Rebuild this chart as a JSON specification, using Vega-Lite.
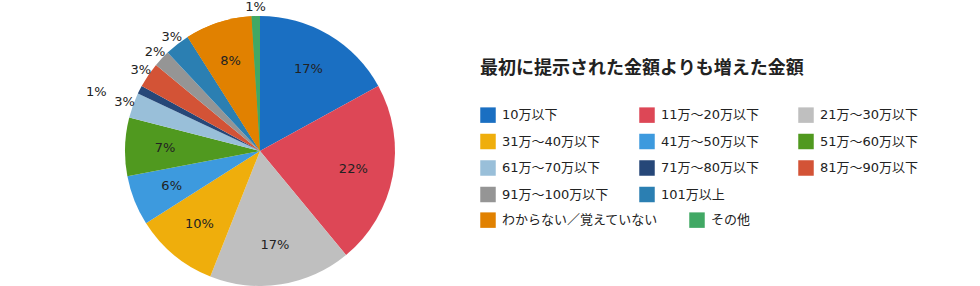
{
  "$schema": "https://vega.github.io/schema/vega-lite/v6.json",
  "width": 520,
  "height": 270,
  "autosize": {"type": "none"},
  "padding": {"left": 0, "top": 16, "right": 460, "bottom": 0},
  "background": "white",
  "config": {"view": {"stroke": null}, "font": "Noto Sans CJK JP"},
  "data": {
    "values": [
      {"order": 1, "category": "10万以下", "value": 17, "label": "17%"},
      {"order": 2, "category": "11万〜20万以下", "value": 22, "label": "22%"},
      {"order": 3, "category": "21万〜30万以下", "value": 17, "label": "17%"},
      {"order": 4, "category": "31万〜40万以下", "value": 10, "label": "10%"},
      {"order": 5, "category": "41万〜50万以下", "value": 6, "label": "6%"},
      {"order": 6, "category": "51万〜60万以下", "value": 7, "label": "7%"},
      {"order": 7, "category": "61万〜70万以下", "value": 3, "label": "3%"},
      {"order": 8, "category": "71万〜80万以下", "value": 1, "label": "1%"},
      {"order": 9, "category": "81万〜90万以下", "value": 3, "label": "3%"},
      {"order": 10, "category": "91万〜100万以下", "value": 2, "label": "2%"},
      {"order": 11, "category": "101万以上", "value": 3, "label": "3%"},
      {"order": 12, "category": "わからない／覚えていない", "value": 8, "label": "8%"},
      {"order": 13, "category": "その他", "value": 1, "label": "1%"}
    ]
  },
  "encoding": {
    "theta": {"field": "value", "type": "quantitative", "stack": true},
    "order": {"field": "order", "type": "quantitative", "sort": "ascending"}
  },
  "layer": [
    {
      "mark": {"type": "arc"},
      "encoding": {
        "color": {
          "field": "category",
          "type": "nominal",
          "scale": {
            "domain": ["10万以下", "11万〜20万以下", "21万〜30万以下", "31万〜40万以下", "41万〜50万以下", "51万〜60万以下", "61万〜70万以下", "71万〜80万以下", "81万〜90万以下", "91万〜100万以下", "101万以上", "わからない／覚えていない", "その他"],
            "range": ["#1a6fc2", "#dd4756", "#bfbfbf", "#efae0c", "#3d9ade", "#50991f", "#99bfd9", "#264778", "#d35336", "#959595", "#2b7fb2", "#e18100", "#41a864"]
          },
          "legend": {
            "title": "最初に提示された金額よりも増えた金額",
            "values": ["10万以下", "11万〜20万以下", "21万〜30万以下", "31万〜40万以下", "41万〜50万以下", "51万〜60万以下", "61万〜70万以下", "71万〜80万以下", "81万〜90万以下", "91万〜100万以下", "101万以上"],
            "orient": "none",
            "direction": "horizontal",
            "legendX": 480,
            "legendY": 44,
            "columns": 3,
            "gridAlign": "all",
            "columnPadding": 30,
            "rowPadding": 10.5,
            "symbolType": "square",
            "symbolSize": 240,
            "symbolStrokeWidth": 0,
            "symbolOpacity": 1,
            "labelFont": "DejaVu Sans, Noto Sans CJK JP",
            "labelFontSize": 13,
            "labelColor": "#222222",
            "labelOffset": 6,
            "labelLimit": 300,
            "titleFont": "Noto Sans CJK JP",
            "titleFontSize": 18,
            "titleFontWeight": "bold",
            "titleColor": "#222222",
            "titlePadding": 29,
            "titleLimit": 500
          }
        }
      }
    },
    {
      "mark": {"type": "arc"},
      "encoding": {
        "fill": {
          "condition": {
            "test": "datum.order >= 12",
            "field": "category",
            "type": "nominal",
            "scale": {
              "domain": ["わからない／覚えていない", "その他"],
              "range": ["#e18100", "#41a864"]
            },
            "legend": {
              "title": null,
              "orient": "none",
              "direction": "horizontal",
              "legendX": 480,
              "legendY": 196,
              "columns": 2,
              "columnPadding": 30,
              "symbolType": "square",
              "symbolSize": 240,
              "symbolStrokeWidth": 0,
              "symbolOpacity": 1,
              "labelFont": "DejaVu Sans, Noto Sans CJK JP",
              "labelFontSize": 13,
              "labelColor": "#222222",
              "labelOffset": 6,
              "labelLimit": 300
            }
          },
          "value": "transparent"
        }
      }
    },
    {
      "mark": {"type": "text", "radius": 95, "font": "DejaVu Sans", "fontSize": 13, "color": "#222222"},
      "encoding": {
        "text": {"condition": {"test": "datum.value >= 6", "field": "label"}, "value": ""}
      }
    },
    {
      "mark": {"type": "text", "radius": 144, "font": "DejaVu Sans", "fontSize": 13, "color": "#222222"},
      "encoding": {
        "text": {"condition": {"test": "datum.value <= 3 && datum.order != 8", "field": "label"}, "value": ""}
      }
    },
    {
      "mark": {"type": "text", "radius": 150, "dx": -30, "dy": 9, "font": "DejaVu Sans", "fontSize": 13, "color": "#222222"},
      "encoding": {
        "text": {"condition": {"test": "datum.order == 8", "field": "label"}, "value": ""}
      }
    }
  ]
}
